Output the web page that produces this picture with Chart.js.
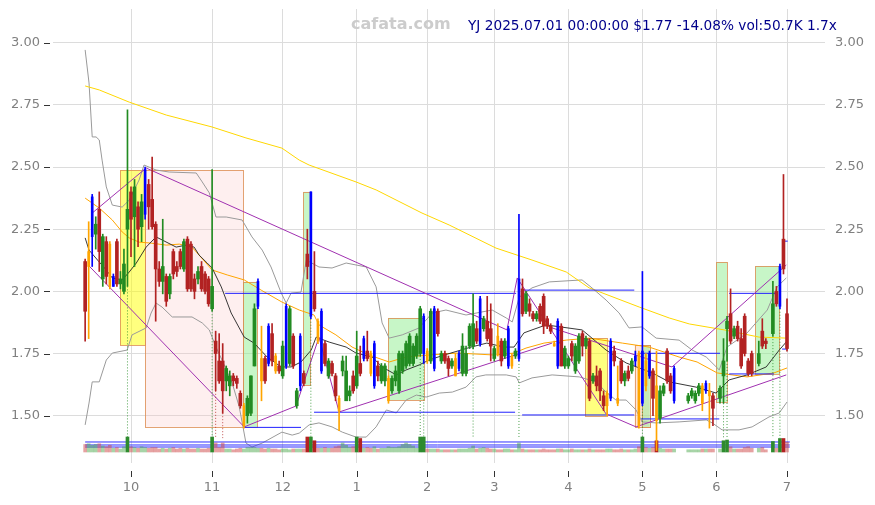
<!DOCTYPE html>
<html><head><meta charset="utf-8">
<script src="https://cdn.jsdelivr.net/npm/chart.js@4.4.1/dist/chart.umd.min.js"></script>
<style>html,body{margin:0;padding:0;background:#fff}canvas{display:block}</style>
</head><body>
<canvas id="c" width="875" height="505"></canvas>
<script>
// ---- axis data ----
const monthIdx=[13,36,56,77,97,116,137,158,179,199];
const monthLabels=['10','11','12','1','2','3','4','5','6','7'];
const yTicks=[1.5,1.75,2.0,2.25,2.5,2.75,3.0];
const titleText='YJ 2025.07.01 00:00:00 $1.77 -14.08% vol:50.7K 1.7x';
const watermark='cafata.com';

// ---- candles (trading-day index) ----
const cIdx=[0,1,2,3,4,5,6,7,8,9,10,11,12,13,14,15,16,17,18,19,20,21,22,23,24,25,26,27,28,29,30,31,32,33,34,35,36,37,38,39,40,41,42,43,44,45,46,47,48,49,50,51,52,53,54,55,56,57,58,59,60,61,62,63,64,65,66,67,68,69,70,71,72,73,74,75,76,77,78,79,80,81,82,83,84,85,86,87,88,89,90,91,92,93,94,95,96,97,98,99,100,101,102,103,104,105,106,107,108,109,110,111,112,113,114,115,116,117,118,119,120,121,122,123,124,125,126,127,128,129,130,131,132,133,134,135,136,137,138,139,140,141,142,143,144,145,146,147,148,149,150,151,152,153,154,155,156,157,158,159,160,161,162,163,164,165,166,167,171,172,173,174,175,176,177,178,180,181,182,183,184,185,186,187,188,189,191,192,193,195,196,197,198,199];
const cOpen=[2.12,2.10,2.22,2.23,2.33,2.05,2.20,2.19,2.02,2.20,2.03,2.00,2.25,2.40,2.30,2.34,2.26,2.31,2.43,2.37,
2.27,2.09,2.04,2.06,1.99,2.16,2.10,2.16,2.09,2.21,2.19,2.05,2.05,2.10,2.07,2.05,1.93,1.80,1.72,1.72,
1.64,1.62,1.66,1.65,1.59,1.46,1.50,1.51,1.70,1.94,1.73,1.73,1.71,1.83,1.74,1.70,1.66,1.70,1.71,1.82,
1.54,1.62,1.67,2.15,1.90,2.00,1.88,1.68,1.79,1.66,1.71,1.66,1.57,1.68,1.56,1.58,1.66,1.62,1.71,1.73,
1.76,1.75,1.62,1.70,1.64,1.64,1.56,1.60,1.64,1.60,1.68,1.70,1.71,1.71,1.74,1.75,1.75,1.76,1.72,1.69,
1.92,1.72,1.75,1.73,1.70,1.73,1.69,1.67,1.67,1.78,1.78,1.85,1.79,1.85,1.88,1.85,1.73,1.82,1.80,1.74,
1.70,1.74,1.74,1.73,2.01,1.92,1.95,1.91,1.89,1.94,1.98,1.89,1.86,1.79,1.70,1.86,1.70,1.70,1.79,1.68,
1.72,1.83,1.78,1.80,1.64,1.66,1.68,1.58,1.54,1.57,1.76,1.57,1.72,1.64,1.68,1.68,1.72,1.75,1.55,1.72,
1.66,1.68,1.62,1.49,1.59,1.76,1.66,1.56,
1.56,1.58,1.56,1.59,1.62,1.60,1.60,1.58,
1.57,1.66,1.85,1.91,1.82,1.86,1.81,1.90,1.72,1.75,
1.71,1.84,1.80,1.83,2.00,1.94,2.21,1.91];
const cHigh=[2.13,2.28,2.39,2.30,2.40,2.23,2.22,2.20,2.07,2.21,2.08,2.17,2.73,2.42,2.45,2.36,2.39,2.50,2.45,2.54,
2.28,2.12,2.29,2.07,2.07,2.17,2.12,2.17,2.21,2.22,2.20,2.07,2.10,2.12,2.08,2.06,2.49,1.84,1.83,1.79,
1.70,1.68,1.67,1.66,1.60,1.55,1.58,1.66,1.95,2.05,1.86,1.74,1.87,1.87,1.75,1.72,1.80,1.95,1.94,1.83,
1.61,1.83,1.68,2.25,2.40,2.16,1.89,1.93,1.80,1.73,1.72,1.67,1.58,1.74,1.74,1.62,1.68,1.84,1.78,1.82,
1.84,1.76,1.80,1.72,1.71,1.71,1.66,1.66,1.70,1.76,1.76,1.80,1.83,1.79,1.83,1.94,1.91,1.77,1.93,1.94,
1.93,1.76,1.76,1.74,1.73,1.75,1.76,1.83,1.78,1.87,1.99,1.88,1.98,1.90,1.98,1.95,1.78,1.87,1.81,1.81,
1.86,1.75,1.77,2.31,2.05,2.00,1.97,1.92,1.92,1.95,1.99,1.90,1.87,1.80,1.89,1.87,1.78,1.74,1.80,1.79,
1.83,1.84,1.82,1.81,1.67,1.70,1.69,1.60,1.60,1.81,1.78,1.70,1.73,1.68,1.70,1.73,1.76,1.76,2.08,1.75,
1.76,1.69,1.76,1.62,1.63,1.77,1.67,1.70,
1.59,1.61,1.60,1.63,1.63,1.64,1.63,1.59,
1.62,1.81,1.90,2.01,1.86,1.88,1.85,1.91,1.73,1.76,
1.80,1.89,1.81,2.04,2.02,2.11,2.47,1.97];
const cLow=[1.80,1.81,2.10,2.17,2.08,2.02,2.03,2.01,2.02,2.02,2.01,1.99,2.02,2.14,2.10,2.18,2.20,2.29,2.25,2.25,
1.88,2.02,1.99,1.94,1.97,2.05,2.06,2.09,2.08,2.00,2.00,1.97,2.03,2.00,1.99,1.94,1.92,1.60,1.63,1.51,
1.60,1.58,1.62,1.61,1.53,1.45,1.47,1.50,1.70,1.93,1.56,1.63,1.70,1.70,1.67,1.67,1.65,1.69,1.70,1.69,
1.53,1.60,1.62,2.05,1.89,1.92,1.79,1.67,1.70,1.65,1.66,1.56,1.44,1.66,1.56,1.56,1.59,1.61,1.66,1.72,
1.72,1.66,1.61,1.64,1.63,1.62,1.55,1.59,1.62,1.59,1.67,1.69,1.70,1.70,1.73,1.74,1.71,1.71,1.71,1.68,
1.82,1.71,1.71,1.66,1.69,1.66,1.68,1.66,1.66,1.77,1.77,1.79,1.78,1.84,1.80,1.72,1.72,1.74,1.70,1.73,
1.69,1.69,1.73,1.72,1.90,1.91,1.90,1.88,1.88,1.87,1.83,1.85,1.83,1.78,1.69,1.70,1.69,1.69,1.72,1.67,
1.71,1.74,1.77,1.56,1.63,1.60,1.56,1.52,1.50,1.56,1.70,1.54,1.63,1.62,1.64,1.67,1.70,1.45,1.54,1.60,
1.65,1.50,1.36,1.47,1.58,1.63,1.59,1.55,
1.55,1.57,1.55,1.58,1.52,1.59,1.45,1.46,
1.55,1.55,1.72,1.79,1.81,1.80,1.69,1.74,1.66,1.66,
1.70,1.77,1.77,1.82,1.94,1.93,2.07,1.76];
const cClose=[1.92,2.16,2.38,2.27,2.16,2.22,2.06,2.02,2.06,2.03,2.05,2.11,2.33,2.29,2.42,2.25,2.36,2.49,2.34,2.26,
2.09,2.04,2.10,1.96,2.06,2.07,2.08,2.10,2.20,2.01,2.01,2.00,2.08,2.01,2.00,1.95,2.02,1.75,1.64,1.60,
1.69,1.66,1.64,1.63,1.54,1.54,1.57,1.66,1.93,2.04,1.64,1.64,1.86,1.72,1.68,1.68,1.78,1.94,1.93,1.70,
1.60,1.82,1.63,2.10,2.40,1.93,1.80,1.92,1.71,1.72,1.67,1.58,1.52,1.72,1.68,1.60,1.60,1.74,1.67,1.81,
1.73,1.67,1.79,1.66,1.70,1.70,1.65,1.65,1.68,1.75,1.75,1.79,1.82,1.78,1.82,1.93,1.90,1.72,1.92,1.93,
1.83,1.75,1.72,1.69,1.72,1.66,1.75,1.78,1.75,1.86,1.87,1.80,1.97,1.89,1.81,1.78,1.77,1.75,1.72,1.80,
1.85,1.70,1.76,2.05,1.91,1.99,1.92,1.89,1.91,1.88,1.86,1.86,1.84,1.78,1.88,1.70,1.77,1.73,1.74,1.78,
1.82,1.78,1.81,1.57,1.66,1.62,1.60,1.54,1.59,1.80,1.72,1.55,1.64,1.67,1.65,1.72,1.74,1.46,1.76,1.62,
1.75,1.57,1.48,1.60,1.62,1.64,1.60,1.69,
1.58,1.60,1.59,1.62,1.55,1.63,1.58,1.53,
1.61,1.72,1.88,1.80,1.85,1.81,1.70,1.75,1.67,1.67,
1.75,1.78,1.79,1.95,1.95,2.10,2.09,1.77];
// candle colour codes: g up, r down, b blue signal, o orange signal
const cColor=('robgrgrobr'+'gggrgrgbrr'+'rrgrgrrrgr'+'rrgrrrgrrr'+'ggrrrogggb'+'orbrorgbgr'+'gbrrbrobrg'+'rrogggrgrb'+'robrggoggg'+'ggggggbogb'+
'rgrrgobggg'+'grbgrrgorg'+'bogbrgrrgr'+'rrrobrggrg'+'grgrgrrrob'+'rorgrgbobo'+'brogg'+'rrb'+'ggggobor'+'gggrgrrrrr'+'grr'+'grbrr').split('');
const cVol=[20,22,18,20,22,16,14,18,10,12,8,14,40,14,12,10,14,12,10,12,
12,8,10,8,10,12,8,10,8,10,8,8,10,8,8,10,40,24,12,24,
8,8,6,8,10,8,12,12,12,10,10,8,10,8,8,6,8,8,6,8,
8,8,8,40,40,30,10,10,12,10,10,14,16,24,18,12,14,40,36,10,
12,10,14,8,10,10,14,12,12,14,20,24,20,16,10,40,40,8,8,8,
8,6,6,6,6,6,8,8,8,10,16,8,10,12,10,8,8,6,6,8,
8,6,6,24,8,6,6,6,6,6,8,6,6,6,8,8,6,6,8,6,
6,6,6,8,6,6,6,6,8,8,6,6,8,6,6,6,8,14,40,12,
10,12,30,10,8,8,8,8,
6,6,6,6,8,8,8,8,
8,30,32,14,8,8,8,12,14,10,
10,12,6,28,10,36,36,26];
const dotIdx=[12,36,37,39,64,95,96,110,123,158,181,182,195,197];
const dotDown=[37,39];

// ---- moving averages / bands (index, value) ----
const yellowX=[0,4,12.5,23,36,45.6,55.8,60.7,63.5,76.8,82.5,95.5,103.2,116.5,126.7,136.4,142.9,157.1,165.6,171.3,181.2,191.1,199];
const yellowY=[2.826,2.81,2.761,2.709,2.661,2.617,2.576,2.528,2.508,2.44,2.408,2.315,2.267,2.174,2.126,2.078,2.014,1.937,1.893,1.869,1.845,1.816,1.812];
const orangeX=[0,4,7.7,10.5,12.5,15.3,18.7,23,26.7,30.3,32.3,36,40.3,45.1,49.9,55.8,60.7,64.9,66.3,71.1,75.7,80.5,86.2,91,97.5,105.5,116,121.6,125,130.1,136.4,142.9,152.3,159.9,168.4,173.5,179.2,187.7,195.3,199];
const orangeY=[2.375,2.335,2.287,2.239,2.215,2.198,2.194,2.186,2.19,2.178,2.146,2.086,2.066,2.046,2.005,1.957,1.925,1.905,1.865,1.825,1.776,1.744,1.716,1.736,1.744,1.752,1.744,1.752,1.772,1.792,1.804,1.812,1.792,1.776,1.736,1.716,1.672,1.656,1.672,1.692];
const blackX=[0,1.1,4,6,7.7,10.5,12.5,14.5,17.3,20.1,21.8,25.8,28.6,30.9,32.3,34.6,36,38.6,41.4,45.1,47.9,51.6,55.6,58.4,61.2,64.1,65.5,69.2,74,76.8,81.4,84.2,88.2,91,94.7,97.5,101.8,109.4,113.9,118.8,121.6,124.4,126.7,130.7,140.9,143.7,147.7,153.4,157.1,160.8,165.6,173.2,178.9,182.6,187.7,193.1,196.8,199];
const blackY=[2.215,2.166,2.118,2.086,2.054,2.046,2.078,2.114,2.178,2.219,2.207,2.178,2.186,2.178,2.146,2.114,2.094,2.018,1.913,1.816,1.792,1.736,1.696,1.696,1.716,1.764,1.816,1.796,1.776,1.752,1.736,1.696,1.664,1.684,1.704,1.724,1.744,1.776,1.792,1.776,1.776,1.833,1.845,1.865,1.845,1.812,1.764,1.712,1.692,1.672,1.636,1.615,1.591,1.644,1.664,1.696,1.764,1.800];
const upperX=[0,1.1,2,3.1,4,4.8,6,7.7,10.5,12.5,15.3,16.7,20.1,23.8,31.5,33.2,35.2,37.1,40,44.5,47.3,50.2,52.7,55.6,57,58.4,61.2,62.7,66.3,70,74,79.7,82.5,84.2,86.2,89.9,94.7,98.4,102.3,108,115.4,119.4,121.1,123.1,126.7,131.6,140.9,143.7,147.7,151.4,154.2,157.9,161.9,168.4,172.1,176.1,179.8,182,187.7,193.4,196.2,198.8];
const upperY=[2.971,2.838,2.621,2.621,2.609,2.528,2.42,2.347,2.339,2.367,2.448,2.508,2.488,2.48,2.476,2.44,2.396,2.299,2.299,2.287,2.219,2.166,2.098,1.993,1.953,1.993,1.997,2.126,2.098,2.094,2.114,2.098,2.018,1.873,1.812,1.825,1.853,1.913,1.925,1.905,1.925,1.893,1.877,1.977,2.014,2.038,2.046,2.014,1.965,1.913,1.853,1.857,1.812,1.804,1.764,1.736,1.684,1.776,1.833,1.925,2.018,2.054];
const lowerX=[0,1.1,2,4,6,7.7,11.9,13.3,17.3,18.7,20.1,21.8,24.7,30.3,33.2,35.2,37.1,38.8,41.7,43.7,45.6,47.3,50.2,55.8,58.7,60.7,63.5,66.3,70,72.9,76.8,79.7,82.5,85.4,88.2,91,93.9,96.7,100.4,104.1,108,110.8,113.6,119.4,122.2,123.1,126.7,132.4,140.1,144.9,147.7,150.5,153.4,156.2,157.9,161.9,168.4,176.1,177.8,180.6,185.4,189.1,193.9,196.8,199];
const lowerY=[1.463,1.551,1.636,1.636,1.724,1.752,1.764,1.825,1.853,1.913,1.953,1.937,1.897,1.897,1.873,1.845,1.776,1.724,1.631,1.535,1.39,1.374,1.39,1.434,1.422,1.43,1.463,1.471,1.455,1.434,1.414,1.414,1.455,1.523,1.511,1.563,1.583,1.575,1.591,1.595,1.615,1.656,1.664,1.664,1.656,1.632,1.652,1.664,1.656,1.636,1.595,1.563,1.563,1.523,1.475,1.471,1.475,1.483,1.471,1.443,1.443,1.455,1.495,1.511,1.555];

// ---- trend (zigzag) lines, null = break ----
const purpX=[0.85,45.1,null,2,17.3,119.6,122.5,147.7,156.2,198.8,null,45.1,59.8,66.3,72,132.4,null,132.4,166.4,198.8];
const purpY=[2.106,1.455,null,2.315,2.496,1.845,2.054,1.507,1.455,1.664,null,1.455,1.539,1.816,1.515,1.792,null,1.853,1.696,2.106];

// ---- support / resistance levels ----
const hX0=[39.7,123.9,64.9,123.9,45.1,157.1,157.6,182.6,182.6,197.6,197.6];
const hX1=[122.2,155.7,121.9,155.7,61.2,180,179.8,195.9,195.3,199.2,199.2];
const hY=[1.992,2.005,1.514,1.503,1.453,1.751,1.487,1.992,1.668,2.202,1.768];

// ---- zones ----
const boxX0=[9.9,17,44.8,61.8,85.9,141.8,155.8,157.8,178.9,190];
const boxX1=[17,44.8,48.8,63.9,96,148,160.1,160.1,182,196.8];
const boxTop=[2.488,2.488,2.038,2.400,1.893,1.812,1.784,1.784,2.118,2.102];
const boxBot=[1.784,1.455,1.455,1.623,1.563,1.500,1.455,1.455,1.555,1.668];
const boxKind=['y','p','g','g','g','y','k','g','g','g'];

// ---- volume reference levels ----
const volLineY=[26.7,18.7,13.3];
const volLineX=[0,199.8];

// ================= build =================
const COL={g:'#228b22',r:'#b22222',b:'#0000ff',o:'#ffa500'};
const pts=(xs,ys)=>xs.map((x,k)=>({x:(x===null?xs[k-1]:x),y:ys[k]}));
const isSig=k=>cColor[k]==='b'||cColor[k]==='o';
const bodyPlain=[],bodySig=[],colPlain=[],colSig=[];
cIdx.forEach((x,k)=>{const d={x,y:[cOpen[k],cClose[k]]};
  if(isSig(k)){bodySig.push(d);colSig.push(COL[cColor[k]]);}else{bodyPlain.push(d);colPlain.push(COL[cColor[k]]);}});
const wicks=cIdx.map((x,k)=>({x,y:[cLow[k],cHigh[k]]}));
const vols=cIdx.map((x,k)=>({x,y:cVol[k]}));
const volColor=k=>{const up=cClose[k]>=cOpen[k];const dark=cVol[k]>=28;
  return up?(dark?'#2e8b2e':'rgba(60,160,60,0.45)'):(dark?'#b22222':'rgba(205,70,70,0.5)');};
const dotsG=[],dotsR=[];
dotIdx.forEach(i=>{const k=cIdx.indexOf(i);const arr=dotDown.includes(i)?dotsR:dotsG;
  arr.push({x:i,y:cLow[k]},{x:i,y:1.41},{x:i,y:null});});
const hLines=[];
hX0.forEach((x0,k)=>{hLines.push({x:x0,y:hY[k]},{x:hX1[k],y:hY[k]},{x:hX1[k],y:null});});

const line=(data,color,order,extra)=>Object.assign({type:'line',data,borderColor:color,borderWidth:1,pointRadius:0,tension:0,fill:false,order,yAxisID:'y'},extra||{});

const FILL={y:'rgba(255,255,0,0.5)',p:'rgba(250,190,190,0.25)',g:'rgba(144,238,144,0.5)',k:'rgba(255,200,170,0.45)'};
const boxPlugin={id:'boxes',beforeDatasetsDraw(chart){
  const ctx=chart.ctx,xs=chart.scales.x,ys=chart.scales.y;
  ctx.save();
  boxX0.forEach((x0,k)=>{
    const a=xs.getPixelForValue(x0),b=xs.getPixelForValue(boxX1[k]);
    const t=ys.getPixelForValue(boxTop[k]),u=ys.getPixelForValue(boxBot[k]);
    ctx.fillStyle=FILL[boxKind[k]];ctx.fillRect(a,t,b-a,u-t);
    ctx.strokeStyle='rgba(220,140,80,0.8)';ctx.lineWidth=1;
    ctx.strokeRect(Math.round(a)+0.5,Math.round(t)+0.5,Math.round(b-a),Math.round(u-t));
  });
  ctx.restore();
}};
const decoPlugin={id:'deco',afterDraw(chart){
  const ctx=chart.ctx,xs=chart.scales.x,ys=chart.scales.y;
  ctx.save();
  ctx.strokeStyle='#333';ctx.lineWidth=1;ctx.beginPath();
  monthIdx.forEach(v=>{const p=Math.round(xs.getPixelForValue(v))+0.5;ctx.moveTo(p,471);ctx.lineTo(p,477);});
  yTicks.forEach(v=>{const p=Math.round(ys.getPixelForValue(v))+0.5;ctx.moveTo(44,p);ctx.lineTo(50,p);});
  ctx.stroke();
  ctx.textBaseline='middle';ctx.textAlign='left';
  ctx.font='bold 16px "DejaVu Sans"';ctx.fillStyle='#cccccc';ctx.fillText(watermark,351,25);
  ctx.font='13.7px "DejaVu Sans"';ctx.fillStyle='#00008b';ctx.fillText(titleText,468,26);
  ctx.restore();
}};

Chart.defaults.font.family='"DejaVu Sans", sans-serif';
Chart.defaults.font.size=13;
const Y0=1.3098,Y1=3.1355;
const yAxis=(pos,pad,w,grid)=>({type:'linear',position:pos,min:Y0,max:Y1,beginAtZero:false,
  grid:grid?{color:'#dcdcdc',drawTicks:false}:{display:false,drawTicks:false},border:{display:false},
  ticks:{color:'#808080',padding:pad,font:{size:13},callback:v=>Number(v).toFixed(2)},
  afterBuildTicks:s=>{s.ticks=yTicks.map(v=>({value:v}));},
  afterFit:s=>{s.width=w;s.paddingTop=0;s.paddingBottom=0;}});

new Chart(document.getElementById('c'),{
  type:'bar',
  data:{datasets:[
    {type:'bar',data:bodyPlain,backgroundColor:colPlain,borderWidth:0,barThickness:3,minBarLength:1,grouped:false,order:0,yAxisID:'y'},
    {type:'bar',data:bodySig,backgroundColor:colSig,borderWidth:0,barThickness:2,minBarLength:1,grouped:false,order:0,yAxisID:'y'},
    {type:'bar',data:wicks,backgroundColor:c=>COL[cColor[c.dataIndex]],borderWidth:0,barThickness:1,grouped:false,order:1,yAxisID:'y'},
    {type:'bar',data:vols,backgroundColor:c=>volColor(c.dataIndex),borderWidth:0,barThickness:3,grouped:false,order:2,yAxisID:'yv'},
    ...volLineY.map(v=>line(volLineX.map(x=>({x,y:v})),'#3030ff',3,{yAxisID:'yv'})),
    line(dotsG,'rgba(34,139,34,0.8)',4,{borderDash:[1,2]}),
    line(dotsR,'rgba(178,34,34,0.8)',4,{borderDash:[1,2]}),
    line(pts(purpX,purpY),'#a030b0',5),
    line(hLines,'#2020ff',6),
    line(pts(blackX,blackY),'#222222',7,{borderWidth:0.9}),
    line(pts(orangeX,orangeY),'#ffa500',8),
    line(pts(yellowX,yellowY),'#ffd700',9),
    line(pts(upperX,upperY),'#9a9a9a',10),
    line(pts(lowerX,lowerY),'#9a9a9a',11)
  ]},
  options:{
    responsive:false,animation:false,events:[],
    layout:{padding:{top:9,left:0,right:0,bottom:0}},
    plugins:{legend:{display:false},tooltip:{enabled:false}},
    scales:{
      x:{type:'linear',position:'bottom',min:-9.116,max:209.774,offset:false,
        grid:{color:'#dcdcdc',drawTicks:false,offset:false},border:{display:false},
        ticks:{color:'#808080',padding:17,font:{size:13},autoSkip:false,maxRotation:0,
          callback:v=>{const k=monthIdx.indexOf(v);return k<0?'':monthLabels[k];}},
        afterBuildTicks:s=>{s.ticks=monthIdx.map(v=>({value:v}));},
        afterFit:s=>{s.height=42;s.paddingLeft=0;s.paddingRight=0;}},
      y:yAxis('left',13,53,true),
      y2:yAxis('right',10,50,false),
      yv:{type:'linear',display:false,min:-29.33,max:1181.3}
    }
  },
  plugins:[boxPlugin,decoPlugin]
});
</script>
</body></html>
